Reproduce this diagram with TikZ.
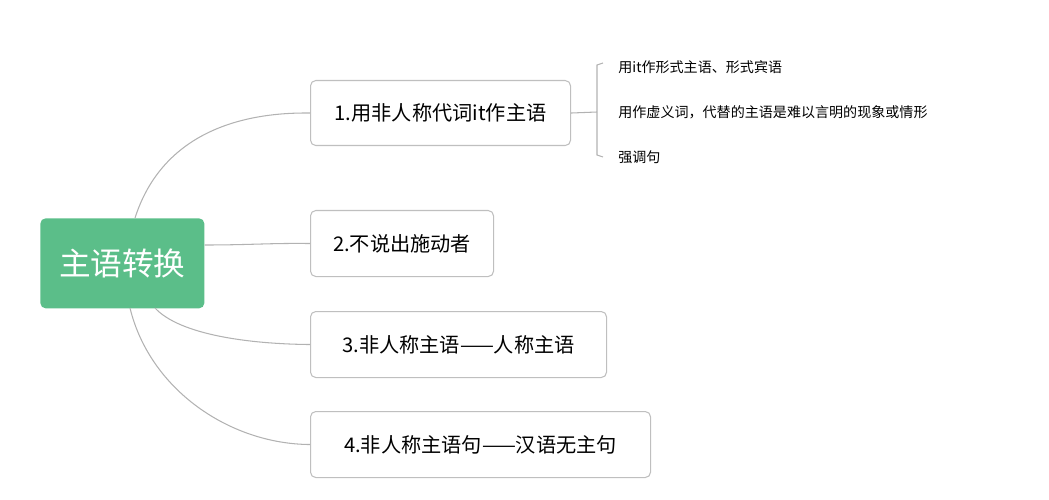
\documentclass[tikz,border=0pt]{standalone}
\usepackage{fontspec}
\setmainfont{Noto Sans CJK SC}
\begin{document}
\begin{tikzpicture}[x=0.02cm,y=-0.02cm,
  box/.style={draw=black!25,line width=0.6pt,rounded corners=3pt,fill=white,anchor=north west,inner sep=0pt,font=\fontsize{11.5}{13}\selectfont},
  leaf/.style={anchor=west,inner sep=0pt,font=\fontsize{8}{10}\selectfont},
  link/.style={draw=black!30,line width=0.6pt}]
\useasboundingbox (0,0) rectangle (1049,500);
\node[fill={rgb,255:red,91;green,190;blue,137},rounded corners=3pt,anchor=north west,minimum width=164*0.02cm,minimum height=90*0.02cm,text=white,font=\fontsize{18}{20}\selectfont] (root) at (40,218) {主语转换};
\node[box,minimum width=260*0.02cm,minimum height=65*0.02cm] (n1) at (310,80) {1.用非人称代词it作主语};
\node[box,minimum width=183*0.02cm,minimum height=66*0.02cm] (n2) at (310,210) {2.不说出施动者};
\node[box,minimum width=296*0.02cm,minimum height=66*0.02cm] (n3) at (310,311) {3.非人称主语——人称主语};
\node[box,minimum width=340*0.02cm,minimum height=66*0.02cm] (n4) at (310,411) {4.非人称主语句——汉语无主句};
\coordinate (r1) at (135,218);
\coordinate (r3) at (155,308);
\coordinate (r4) at (130,308);
\draw[link] (r1) .. controls (160,140) and (230,112) .. (n1.west);
\draw[link] (root.east |- 0,245) .. controls (250,245) and (270,243) .. (n2.west);
\draw[link] (r3) .. controls (180,335) and (250,344) .. (n3.west);
\draw[link] (r4) .. controls (150,390) and (230,444) .. (n4.west);
\coordinate (b) at (597,112);
\draw[link] (n1.east) -- (b);
\draw[link] (603,63) -- (597,65) -- (597,155) -- (603,157);
\node[leaf] (l1) at (618,67) {用it作形式主语、形式宾语};
\node[leaf] (l2) at (618,112) {用作虚义词，代替的主语是难以言明的现象或情形};
\node[leaf] (l3) at (618,157) {强调句};
\end{tikzpicture}
\end{document}
